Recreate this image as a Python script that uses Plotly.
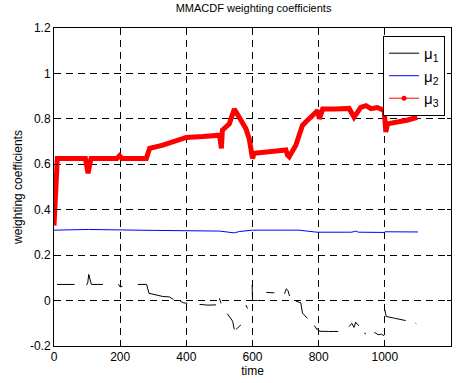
import plotly.graph_objects as go

# ---- data ----
mu1_t = [9, 62, None,
         98, 102, 105, 110, 113, 148, None,
         195, 200, 207, None,
         253, 280, 287, 298, 329, 349, 361, None,
         382, 392, 403, None,
         440, 465, 490, None,
         500, 503, 505, None,
         524, 532, 540, 545, None,
         550, 558, 565, None,
         580, 585, None,
         599, 600, 607, 615, None,
         642, 666, None,
         697, 702, 707, 712, None,
         731, 740, 746, 751, 758, 766, None,
         787, 796, None,
         797, 802, 830, 859, None,
         892, 900, 907, 912, 917, 922, None,
         938, 943, None,
         968, 980, 990, 998, None,
         1000, 1004, 1030, 1063, None,
         1093, 1095]
mu1_v = [0.071, 0.071, None,
         0.068, 0.078, 0.115, 0.082, 0.071, 0.071, None,
         0.072, 0.060, 0.063, None,
         0.071, 0.071, 0.032, 0.028, 0.018, 0.016, 0.005, None,
         -0.004, -0.010, -0.012, None,
         -0.017, -0.020, -0.019, None,
         0.010, 0.000, -0.012, None,
         -0.058, -0.075, -0.091, -0.127, None,
         -0.127, -0.115, -0.107, None,
         -0.020, -0.035, None,
         0.070, 0.000, 0.000, 0.000, None,
         0.036, 0.034, None,
         0.030, 0.052, 0.045, 0.020, None,
         -0.002, -0.008, -0.010, -0.055, -0.065, -0.078, None,
         -0.110, -0.130, None,
         -0.122, -0.135, -0.136, -0.136, None,
         -0.115, -0.100, -0.118, -0.095, -0.105, -0.110, None,
         -0.143, -0.147, None,
         -0.140, -0.150, -0.148, -0.155, None,
         -0.040, -0.070, -0.078, -0.088, None,
         -0.100, -0.101]

mu2_t = [0, 100, 104, 300, 400, 500, 545, 560, 600, 740, 795, 900, 912, 920, 998, 1000, 1100]
mu2_v = [0.310, 0.310, 0.313, 0.309, 0.309, 0.306, 0.298, 0.304, 0.310, 0.310, 0.301, 0.301, 0.306, 0.301, 0.300, 0.303, 0.302]

mu3_t = [0, 2, 4, 6, 10, 30, 60, 95, 98, 103, 108, 112, 150, 190, 198, 206, 279, 284, 289,
         329, 369, 400, 450, 500, 503, 506, 509, 530, 545, 560, 580, 590, 598, 600, 605,
         650, 701, 706, 711, 731, 751, 761, 781, 797, 802, 812, 850, 892, 907, 927, 943,
         958, 977, 998, 1001, 1003, 1008, 1043, 1070, 1098]
mu3_v = [0.33, 0.42, 0.50, 0.58, 0.625, 0.625, 0.625, 0.625, 0.60, 0.56, 0.60, 0.625, 0.625, 0.625, 0.638, 0.625, 0.625, 0.645, 0.67,
         0.684, 0.70, 0.718, 0.722, 0.728, 0.70, 0.67, 0.75, 0.778, 0.843, 0.807, 0.757, 0.713, 0.66, 0.626, 0.648,
         0.655, 0.663, 0.64, 0.633, 0.684, 0.771, 0.786, 0.815, 0.837, 0.80, 0.843, 0.843, 0.846, 0.807, 0.851, 0.858,
         0.845, 0.85, 0.837, 0.78, 0.742, 0.778, 0.786, 0.795, 0.807]

x_ticks = [0, 200, 400, 600, 800, 1000, 1200]
x_tick_text = ["0", "200", "400", "600", "800", "1000", "1200"]
y_ticks = [-0.2, 0, 0.2, 0.4, 0.6, 0.8, 1.0, 1.2]
y_tick_text = ["-0.2", "0", "0.2", "0.4", "0.6", "0.8", "1", "1.2"]

names = ["μ<sub>1</sub>", "μ<sub>2</sub>", "μ<sub>3</sub>"]

FONT = "Liberation Sans, Arial"

fig = go.Figure()
fig.add_trace(go.Scatter(x=mu1_t, y=mu1_v, mode="lines", name=names[0],
                         line=dict(color="black", width=1), connectgaps=False))
fig.add_trace(go.Scatter(x=mu2_t, y=mu2_v, mode="lines", name=names[1],
                         line=dict(color="#0000ff", width=1)))
fig.add_trace(go.Scatter(x=mu3_t, y=mu3_v, mode="lines", showlegend=False,
                         line=dict(color="#ff0000", width=5)))
fig.add_trace(go.Scatter(x=[None], y=[None], mode="lines+markers", name=names[2],
                         line=dict(color="#ff0000", width=1),
                         marker=dict(color="#ff0000", size=5)))

axis_common = dict(showline=True, linecolor="black", linewidth=1, mirror="ticks",
                   ticks="inside", ticklen=4, tickcolor="black",
                   showgrid=True, gridcolor="black", gridwidth=1, griddash="7px,5px",
                   zeroline=False, tickfont=dict(family=FONT, size=12, color="black"))

fig.update_xaxes(range=[0, 1200], tickvals=x_ticks, ticktext=x_tick_text,
                 title=dict(text="time", standoff=1, font=dict(family=FONT, size=12, color="black")),
                 **axis_common)
fig.update_yaxes(range=[-0.2, 1.2], tickvals=y_ticks, ticktext=y_tick_text,
                 title=dict(text="weighting coefficients", standoff=4, font=dict(family=FONT, size=12, color="black")),
                 **axis_common)

fig.update_layout(
    width=461, height=383,
    margin=dict(l=54, r=9, t=28, b=32),
    paper_bgcolor="white", plot_bgcolor="white",
    title=dict(text="MMACDF weighting coefficients", x=0.55, xanchor="center", y=0.99, yanchor="top",
               font=dict(family=FONT, size=11, color="black")),
    legend=dict(x=0.985, y=0.975, xanchor="right", yanchor="top",
                bordercolor="black", borderwidth=1, bgcolor="white",
                font=dict(family=FONT, size=15, color="black"),
                itemwidth=30),
    showlegend=True,
)

fig.write_html("out.html")
